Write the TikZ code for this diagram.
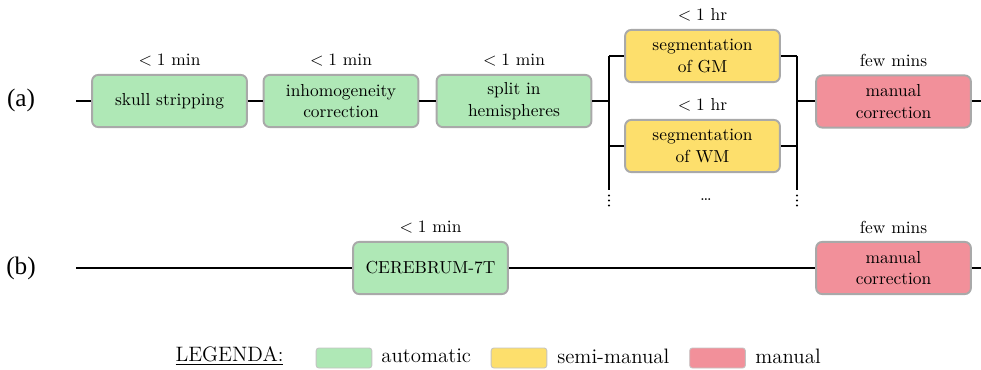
\documentclass[tikz,border=0pt]{standalone}
\usepackage{fontspec}
\newfontfamily\timesf{Liberation Serif}
\usetikzlibrary{positioning}
\definecolor{autoC}{HTML}{AFE8B6}
\definecolor{semiC}{HTML}{FDDF6C}
\definecolor{manC}{HTML}{F2909A}
\definecolor{bordC}{HTML}{A9A9A9}
\begin{document}
\begin{tikzpicture}[x=0.575pt,y=-0.575pt,
  box/.style={draw=bordC, line width=1.1pt, rounded corners=3.5pt,
    minimum width=89pt, minimum height=30pt, align=center, inner sep=0pt,
    font=\fontsize{10}{12.5}\selectfont},
  lbl/.style={font=\fontsize{10}{12}\selectfont, inner sep=1pt},
  conn/.style={line width=1.05pt, black},
  tlabel/.style={font=\timesf\fontsize{14.5}{16}\selectfont},
  swatch/.style={draw=bordC!70, line width=0.5pt, rounded corners=1.5pt,
    minimum width=32pt, minimum height=11.5pt, inner sep=0pt},
  leg/.style={font=\fontsize{12}{14}\selectfont, anchor=west, inner sep=0pt},
  dot/.style={fill=black}]
\useasboundingbox (0,0) rectangle (981,370);

% row labels
\node[tlabel] (la) at (21,100) {(a)};
\node[tlabel] (lb) at (21,268) {(b)};

% row (a)
\node[box, fill=autoC] (b1) at (169.5,101) {skull stripping};
\node[box, fill=autoC] (b2) at (341,101) {inhomogeneity\\correction};
\node[box, fill=autoC] (b3) at (514,101) {split in\\hemispheres};
\node[box, fill=semiC] (gm) at (702.5,56) {segmentation\\of GM};
\node[box, fill=semiC] (wm) at (702.5,146) {segmentation\\of WM};
\node[box, fill=manC] (m1) at (893.5,101.5) {manual\\correction};

\node[lbl, above=3pt of b1] (t1) {$<1$ min};
\node[lbl, above=3pt of b2] (t2) {$<1$ min};
\node[lbl, above=3pt of b3] (t3) {$<1$ min};
\node[lbl, above=3pt of gm] (t4) {$<1$ hr};
\node[lbl, above=3pt of wm] (t5) {$<1$ hr};
\node[lbl, above=3pt of m1] (t6) {few mins};

\coordinate (sa) at (76,101);
\coordinate (ea) at (981,101);
\coordinate (jl) at (609,101);
\coordinate (jlt) at (609,56);
\coordinate (jlw) at (609,146);
\coordinate (jlb) at (609,190);
\coordinate (jr) at (797,101);
\coordinate (jrt) at (797,56);
\coordinate (jrw) at (797,146);
\coordinate (jrb) at (797,190);

\draw[conn] (sa) -- (b1);
\draw[conn] (b1) -- (b2);
\draw[conn] (b2) -- (b3);
\draw[conn] (b3.east) -- (jl);
\draw[conn] (jlt) -- (jlb);
\draw[conn] (jlt) -- (gm.west);
\draw[conn] (jlw) -- (wm.west);
\draw[conn] (gm.east) -- (jrt);
\draw[conn] (wm.east) -- (jrw);
\draw[conn] (jrt) -- (jrb);
\draw[conn] (jr) -- (m1.west |- jr);
\draw[conn] (m1.east |- ea) -- (ea);

% vertical dots below the branches
\foreach \yy in {195.5,200.5,205.5}{
  \fill[dot] (609,\yy) circle[radius=0.6pt];
  \fill[dot] (797,\yy) circle[radius=0.6pt];
}
\node[font=\fontsize{10}{11}\selectfont, inner sep=0pt] (d3) at (706,200) {\dots};

% row (b)
\node[box, fill=autoC] (cb) at (430.5,268) {CEREBRUM-7T};
\node[box, fill=manC] (m2) at (893.5,268) {manual\\correction};
\node[lbl, above=3pt of cb] (t7) {$<1$ min};
\node[lbl, above=3pt of m2] (t8) {few mins};
\coordinate (sb) at (76,268);
\coordinate (eb) at (981,268);
\draw[conn] (sb) -- (cb);
\draw[conn] (cb) -- (m2);
\draw[conn] (m2) -- (eb);

% legend
\node[font=\fontsize{12}{14}\selectfont, inner sep=0pt] (lg) at (229.5,356) {\underline{LEGENDA:}};
\node[swatch, fill=autoC] (s1) at (344,358) {};
\node[leg] (l1) at (381,356) {automatic};
\node[swatch, fill=semiC] (s2) at (519,358) {};
\node[leg] (l2) at (557,356) {semi-manual};
\node[swatch, fill=manC] (s3) at (717.5,358) {};
\node[leg] (l3) at (755,356) {manual};
\end{tikzpicture}
\end{document}
